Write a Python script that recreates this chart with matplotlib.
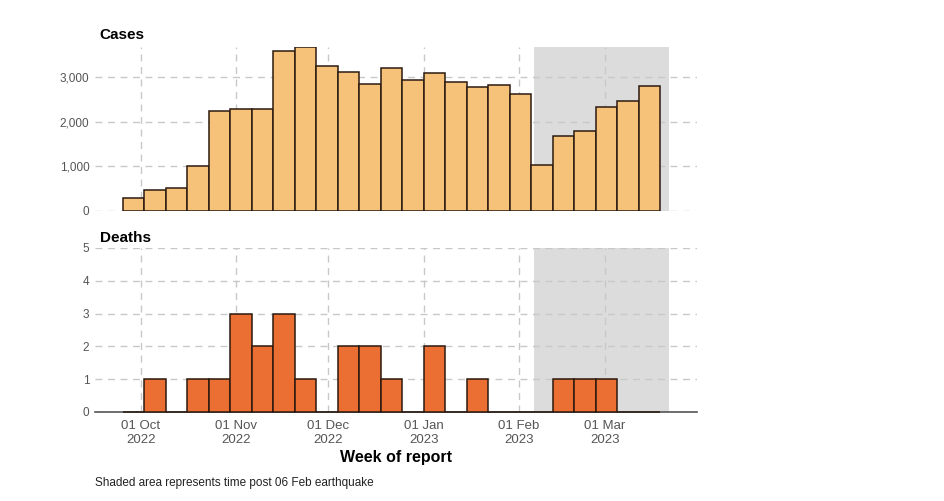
import datetime as dt

import matplotlib
matplotlib.use('Agg')
import matplotlib.pyplot as plt
import matplotlib.dates as mdates

plt.rcParams['font.family'] = ['Liberation Sans', 'DejaVu Sans']

# weekly counts, weeks starting Sunday 25 Sep 2022
week_start = [dt.date(2022, 9, 25) + dt.timedelta(days=7 * i) for i in range(25)]
cases = [300, 480, 520, 1000, 2250, 2300, 2280, 3600, 3680, 3250, 3120, 2850, 3200,
         2950, 3100, 2900, 2780, 2820, 2620, 1030, 1680, 1800, 2330, 2470, 2800]
deaths = [0, 1, 0, 1, 1, 3, 2, 3, 1, 0, 2, 2, 1, 0, 2, 0, 1, 0, 0, 0, 1, 1, 1, 0, 0]

quake = dt.date(2023, 2, 6)
shade_end = dt.date(2023, 3, 22)
x_min, x_max = dt.date(2022, 9, 16), dt.date(2023, 3, 31)

case_col = '#F6C178'
death_col = '#EB6E32'
edge = '#2b1a10'
grid_col = '#c8c8c8'
tick_col = '#555555'

fig = plt.figure(figsize=(9.45, 5.01), dpi=100)
axC = fig.add_axes([0.1005, 0.579, 0.637, 0.327])
axD = fig.add_axes([0.1005, 0.178, 0.637, 0.327])

for ax in (axC, axD):
    ax.axvspan(quake, shade_end, color='#dcdcdc', zorder=0, lw=0)
    ax.set_xlim(x_min, x_max)
    ax.xaxis.set_major_locator(mdates.MonthLocator())
    ax.grid(True, color=grid_col, linestyle=(0, (5, 4)), linewidth=1, zorder=1)
    for s in ax.spines.values():
        s.set_visible(False)
    ax.tick_params(length=0, colors=tick_col, labelsize=8.5, pad=4)
    ax.set_axisbelow(True)

axC.bar(week_start, cases, width=7, align='edge', color=case_col,
        edgecolor=edge, linewidth=1.1, zorder=2)
axC.set_ylim(0, 3680)
axC.set_yticks([0, 1000, 2000, 3000])
axC.set_yticklabels(['0', '1,000', '2,000', '3,000'])
axC.set_xticklabels([])
axC.set_title('Cases', loc='left', fontweight='bold', fontsize=11, x=0.008, pad=6)

axD.bar(week_start, deaths, width=7, align='edge', color=death_col,
        edgecolor=edge, linewidth=1.1, zorder=3, clip_on=False)
axD.set_ylim(0, 5)
axD.set_yticks(range(6))
axD.spines['bottom'].set_visible(True)
axD.spines['bottom'].set_color('#555555')
axD.spines['bottom'].set_linewidth(1.2)
axD.xaxis.set_major_formatter(mdates.DateFormatter('%d %b\n%Y'))
axD.tick_params(axis='x', labelsize=9.5, pad=6)
axD.set_title('Deaths', loc='left', fontweight='bold', fontsize=11, x=0.008, pad=4)
axD.set_xlabel('Week of report', fontweight='bold', fontsize=11.5, labelpad=3)
for lab in axD.get_xticklabels():
    lab.set_linespacing(1.15)

fig.text(0.1005, 0.03, 'Shaded area represents time post 06 Feb earthquake',
         fontsize=8.5, color='#222222')

fig.savefig('out.png', dpi=100)
